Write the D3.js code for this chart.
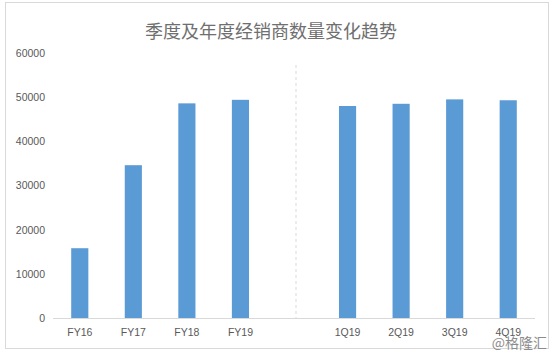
<!DOCTYPE html>
<html><head><meta charset="utf-8">
<script src="https://cdn.jsdelivr.net/npm/d3@7"></script>
<style>body{margin:0;background:#fff;}svg{display:block;}</style>
</head><body>
<script>
const title = "季度及年度经销商数量变化趋势";
const categories = ["FY16","FY17","FY18","FY19","","1Q19","2Q19","3Q19","4Q19"];
const values = [15800, 34600, 48600, 49400, null, 48000, 48500, 49500, 49300];
const yTicks = [0,10000,20000,30000,40000,50000,60000];
const watermark = "@格隆汇";

(function(){
const W = 555, H = 355;
const svg = d3.select("body").append("svg").attr("width", W).attr("height", H);
svg.append("rect").attr("x",5.5).attr("y",2.5).attr("width",543).attr("height",346)
  .attr("fill","#fff").attr("stroke","#d9d9d9");

const mLeft = 53, mRight = 535, mTop = 53, mBottom = 318;
const x = d3.scaleBand().domain(categories.map((d,i)=>i)).range([mLeft,mRight]).paddingInner(0.68).paddingOuter(0.34);
const y = d3.scaleLinear().domain([0,60000]).range([mBottom, mTop]);

svg.append("text").attr("x",271).attr("y",38).attr("text-anchor","middle")
  .attr("font-family","'Noto Sans CJK SC'").attr("font-size",18).attr("fill","#6f6f6f").text(title);

const ya = svg.append("g").attr("transform",`translate(${mLeft},0)`)
  .call(d3.axisLeft(y).tickValues(yTicks).tickSize(0).tickPadding(8).tickFormat(d3.format("d")));
ya.select(".domain").remove();
ya.selectAll("text").attr("font-family","Liberation Sans, Arial").attr("font-size",10.5).attr("fill","#595959");

const xa = svg.append("g").attr("transform",`translate(0,${mBottom})`)
  .call(d3.axisBottom(x).tickSize(0).tickPadding(11).tickFormat(i=>categories[i]));
xa.select(".domain").attr("stroke","#d9d9d9").attr("d",`M${mLeft},0.5H${mRight}`);
xa.selectAll("text").attr("font-family","Liberation Sans, Arial").attr("font-size",10.5).attr("fill","#595959");

const gi = categories.indexOf("");
const dx = x(gi) + x.bandwidth()/2 + 2;
svg.append("line").attr("x1",dx).attr("x2",dx).attr("y1",65).attr("y2",mBottom)
  .attr("stroke","#d9d9d9").attr("stroke-dasharray","3,3");

svg.append("g").selectAll("rect").data(values.map((v,i)=>({v,i})).filter(d=>d.v!=null))
  .join("rect").attr("x",d=>x(d.i)).attr("width",x.bandwidth())
  .attr("y",d=>y(d.v)).attr("height",d=>y(0)-y(d.v)).attr("fill","#5b9bd5");

svg.append("text").attr("x",547).attr("y",348).attr("text-anchor","end")
  .attr("font-family","'Noto Sans CJK SC'").attr("font-size",14).attr("fill","#8c8c8c")
  .attr("stroke","#fff").attr("stroke-width",0.5).attr("paint-order","stroke").text(watermark);
})();
</script>
</body></html>
